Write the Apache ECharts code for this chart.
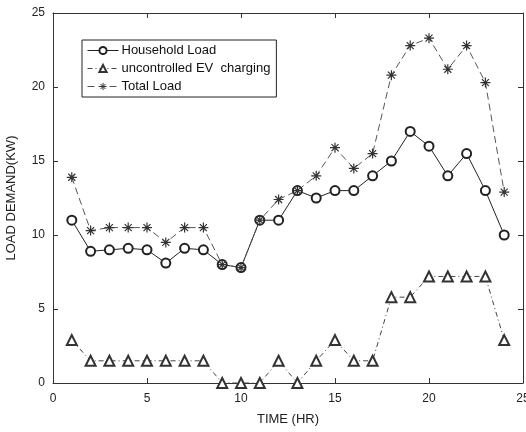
<!DOCTYPE html>
<html>
<head>
<meta charset="utf-8">
<script src="https://cdn.jsdelivr.net/npm/echarts@6/dist/echarts.min.js"></script>
<style>
  html, body { margin: 0; padding: 0; background: #fff; }
  #chart { width: 526px; height: 432px; }
</style>
</head>
<body>
<div id="chart"></div>
<script>
// hours 1..24
const hours = [1, 2, 3, 4, 5, 6, 7, 8, 9, 10, 11, 12, 13, 14, 15, 16, 17, 18, 19, 20, 21, 22, 23, 24]
const householdLoad = [11, 8.9, 9, 9.1, 9, 8.1, 9.1, 9, 8, 7.8, 11, 11, 13, 12.5, 13, 13, 14, 15, 17, 16, 14, 15.5, 13, 10]
const evCharging = [2.9, 1.5, 1.5, 1.5, 1.5, 1.5, 1.5, 1.5, 0, 0, 0, 1.5, 0, 1.5, 2.9, 1.5, 1.5, 5.8, 5.8, 7.2, 7.2, 7.2, 7.2, 2.9]
const totalLoad = [13.9, 10.3, 10.5, 10.5, 10.5, 9.5, 10.5, 10.5, 8, 7.8, 11, 12.4, 13, 14, 15.9, 14.5, 15.5, 20.8, 22.8, 23.3, 21.2, 22.8, 20.3, 12.9]
const xTicks = [0, 5, 10, 15, 20, 25]
const yTicks = [0, 5, 10, 15, 20, 25]

const pairs = (ys) => hours.map((h, i) => [h, ys[i]])

// asterisk marker (plus + x)
const star = 'path://M0,-10L0,10M-10,0L10,0M-7,-7L7,7M-7,7L7,-7'

const myChart = echarts.init(document.getElementById('chart'))

const axisCommon = {
  min: 0,
  max: 25,
  interval: 5,
  axisLine: { show: true, onZero: false, lineStyle: { color: '#333', width: 1 } },
  axisTick: { show: true, inside: true, length: 5, lineStyle: { color: '#333' } },
  splitLine: { show: false }
}

const option = {
  animation: false,
  textStyle: { fontFamily: 'Liberation Sans, Arial, sans-serif' },
  grid: { left: 53, right: 3, top: 13, bottom: 49, outerBoundsMode: 'none', containLabel: false },
  legend: {
    orient: 'vertical',
    left: 82,
    top: 40,
    padding: [4, 6, 4, 5],
    itemGap: 5,
    itemWidth: 31,
    itemHeight: 9,
    borderColor: '#222',
    borderWidth: 1,
    lineStyle: { width: 1 },
    itemStyle: { borderWidth: 1 },
    textStyle: { fontSize: 13, color: '#111', padding: [0, 0, 0, -2] },
    data: ['Household Load', 'uncontrolled EV  charging', 'Total Load']
  },
  xAxis: [
    Object.assign({}, axisCommon, {
      type: 'value',
      position: 'bottom',
      name: 'TIME (HR)',
      nameLocation: 'middle',
      nameGap: 30,
      nameTextStyle: { fontSize: 13, color: '#222' },
      axisLabel: {
        color: '#222', fontSize: 12, margin: 10,
        formatter: (v) => xTicks.includes(v) ? String(v) : ''
      }
    }),
    Object.assign({}, axisCommon, {
      type: 'value',
      position: 'top',
      axisLabel: { show: false }
    })
  ],
  yAxis: [
    Object.assign({}, axisCommon, {
      type: 'value',
      position: 'left',
      name: 'LOAD DEMAND(KW)',
      nameLocation: 'middle',
      nameGap: 35,
      nameTextStyle: { fontSize: 13, color: '#222' },
      axisLabel: {
        color: '#222', fontSize: 12, margin: 8,
        formatter: (v) => yTicks.includes(v) ? String(v) : ''
      }
    }),
    Object.assign({}, axisCommon, {
      type: 'value',
      position: 'right',
      axisLabel: { show: false }
    })
  ],
  series: [
    {
      name: 'Household Load',
      type: 'line',
      data: pairs(householdLoad),
      symbol: 'emptyCircle',
      symbolSize: 9,
      lineStyle: { color: '#222', width: 1 },
      itemStyle: { color: '#222', borderWidth: 1 }
    },
    {
      name: 'uncontrolled EV  charging',
      type: 'line',
      data: pairs(evCharging),
      symbol: 'emptyTriangle',
      symbolSize: 10,
      lineStyle: { color: '#444', width: 1, type: [5, 3, 1, 3] },
      itemStyle: { color: '#333', borderWidth: 1 }
    },
    {
      name: 'Total Load',
      type: 'line',
      data: pairs(totalLoad),
      symbol: star,
      symbolSize: 10,
      lineStyle: { color: '#555', width: 1, type: [7, 4] },
      itemStyle: { color: 'none', borderColor: '#333', borderWidth: 1.2 }
    }
  ]
}

myChart.setOption(option)
</script>
</body>
</html>
